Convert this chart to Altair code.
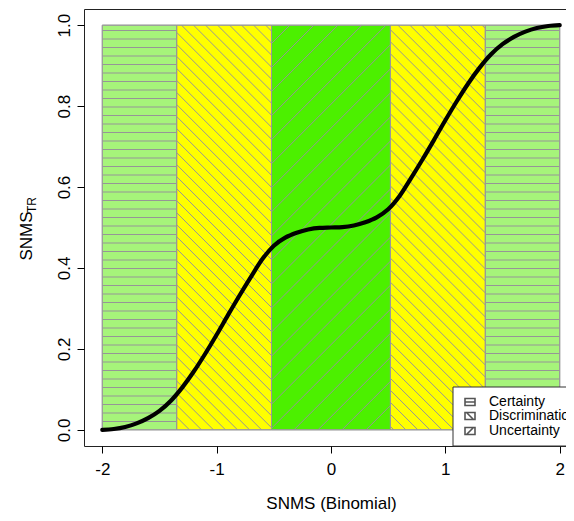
import altair as alt
import pandas as pd
import numpy as np

# ---------------- data ----------------
region_start = [-2.0, -1.35, -0.52, 0.52, 1.35]
region_end = [-1.35, -0.52, 0.52, 1.35, 2.0]
region_kind = ["Certainty", "Discrimination", "Uncertainty", "Discrimination", "Certainty"]
region_bottom = [0.0, 0.0, 0.0, 0.0, 0.0]
region_top = [1.0, 1.0, 1.0, 1.0, 1.0]

curve_x = [-2.0, -1.9, -1.8, -1.7, -1.6, -1.5, -1.4, -1.3, -1.2, -1.1, -1.0,
           -0.9, -0.8, -0.7, -0.6, -0.5, -0.4, -0.3, -0.2, -0.1, 0.0,
           0.1, 0.2, 0.3, 0.4, 0.5, 0.6, 0.7, 0.8, 0.9, 1.0,
           1.1, 1.2, 1.3, 1.4, 1.5, 1.6, 1.7, 1.8, 1.9, 2.0]
curve_y = [0.000, 0.002, 0.007, 0.016, 0.029, 0.047, 0.072, 0.105, 0.144, 0.188, 0.235,
           0.284, 0.332, 0.378, 0.422, 0.455, 0.475, 0.487, 0.495, 0.499, 0.500,
           0.501, 0.505, 0.513, 0.525, 0.545, 0.578, 0.622, 0.668, 0.716, 0.765,
           0.812, 0.856, 0.895, 0.928, 0.953, 0.971, 0.984, 0.993, 0.998, 1.000]

x_ticks = [-2, -1, 0, 1, 2]
y_ticks = [0.0, 0.2, 0.4, 0.6, 0.8, 1.0]
legend_labels = ["Certainty", "Discrimination", "Uncertainty"]

# ---------------- styling / layout ----------------
kind_color = {"Certainty": "#A6F47A", "Discrimination": "#FFFF00", "Uncertainty": "#4CF000"}
XDOM = [-2.16, 2.16]
YDOM = [-0.04, 1.04]
W, H = 494, 437
FONT = "Liberation Sans"
HATCH = "#969696"

kx = W / (XDOM[1] - XDOM[0])
ky = H / (YDOM[1] - YDOM[0])


def to_px(x, y):
    return (x - XDOM[0]) * kx, (YDOM[1] - y) * ky


def to_data(X, Y):
    return X / kx + XDOM[0], YDOM[1] - Y / ky


def hatch(x0, x1, y0, y1, direction, spacing, phase):
    """Hatch texture lines (pixel space direction), clipped to a data rectangle."""
    Xa, Yb = to_px(x0, y0)
    Xb, Yt = to_px(x1, y1)
    d = np.array(direction, dtype=float)
    d /= np.linalg.norm(d)
    n = np.array([-d[1], d[0]])
    corners = [np.array(p) for p in [(Xa, Yt), (Xb, Yt), (Xa, Yb), (Xb, Yb)]]
    proj = [float(n @ p) for p in corners]
    cmin, cmax = min(proj), max(proj)
    segs = []
    k = np.ceil((cmin - phase) / spacing)
    while phase + k * spacing <= cmax:
        c = phase + k * spacing
        k += 1
        p0 = c * n
        t_lo, t_hi = -1e9, 1e9
        ok = True
        for axis, lo, hi in ((0, Xa, Xb), (1, Yt, Yb)):
            if abs(d[axis]) < 1e-12:
                if not (lo + 0.5 < p0[axis] < hi - 0.5):
                    ok = False
            else:
                ta = (lo - p0[axis]) / d[axis]
                tb = (hi - p0[axis]) / d[axis]
                t_lo = max(t_lo, min(ta, tb))
                t_hi = min(t_hi, max(ta, tb))
        if not ok or t_hi - t_lo < 0.7:
            continue
        pa = p0 + t_lo * d
        pb = p0 + t_hi * d
        a = to_data(pa[0], pa[1])
        b = to_data(pb[0], pb[1])
        segs.append((float(a[0]), float(a[1]), float(b[0]), float(b[1])))
    return segs


hatch_style = {"Certainty": ((1, 0), 8.5, 21.5),
               "Discrimination": ((1, 1), 8.5, 2.0),
               "Uncertainty": ((1, -1), 17.0, 4.0)}
segs = []
for s, e, b, t, kd in zip(region_start, region_end, region_bottom, region_top, region_kind):
    dirn, sp, ph = hatch_style[kd]
    segs += hatch(s, e, b, t, dirn, sp, ph)
hatch_df = pd.DataFrame(segs, columns=["x", "y", "x2", "y2"])

regions = pd.DataFrame({"x0": region_start, "x1": region_end, "y0": region_bottom,
                        "y1": region_top, "kind": region_kind})
curve = pd.DataFrame({"x": curve_x, "y": curve_y})

xscale = alt.Scale(domain=XDOM, nice=False, zero=False)
yscale = alt.Scale(domain=YDOM, nice=False, zero=False)
X_AX = alt.Axis(values=x_ticks, labelExpr="toString(datum.value)",
                title="SNMS (Binomial)", labelPadding=8, titlePadding=18)
Y_AX = alt.Axis(values=y_ticks, format=".1f", title=None, labelAngle=270,
                labelAlign="center", labelBaseline="alphabetic", labelPadding=8)

rects = alt.Chart(regions).mark_rect(stroke="#999999", strokeWidth=1).encode(
    x=alt.X("x0:Q", scale=xscale, axis=X_AX), x2="x1:Q",
    y=alt.Y("y0:Q", scale=yscale, axis=Y_AX), y2="y1:Q",
    fill=alt.Fill("kind:N", scale=alt.Scale(domain=list(kind_color.keys()),
                                           range=list(kind_color.values())), legend=None),
)

hatches = alt.Chart(hatch_df).mark_rule(color=HATCH, strokeWidth=1).encode(
    x=alt.X("x:Q", scale=xscale, axis=X_AX), y=alt.Y("y:Q", scale=yscale, axis=Y_AX),
    x2="x2:Q", y2="y2:Q",
)

borders = alt.Chart(regions).mark_rect(stroke="#999999", strokeWidth=1, fillOpacity=0).encode(
    x=alt.X("x0:Q", scale=xscale, axis=X_AX), x2="x1:Q",
    y=alt.Y("y0:Q", scale=yscale, axis=Y_AX), y2="y1:Q",
)

line = alt.Chart(curve).mark_line(color="black", strokeWidth=4.2, interpolate="monotone",
                                  strokeCap="round").encode(
    x=alt.X("x:Q", scale=xscale, axis=X_AX), y=alt.Y("y:Q", scale=yscale, axis=Y_AX),
)

# y-axis title with subscript
one = pd.DataFrame({"a": [0]})
ytitle = alt.Chart(one).mark_text(text="SNMS", angle=270, fontSize=17, font=FONT,
                                  align="center", baseline="middle", color="black").encode(
    x=alt.value(-57), y=alt.value(227))
ysub = alt.Chart(one).mark_text(text="TR", angle=270, fontSize=12, font=FONT,
                                align="center", baseline="middle", color="black").encode(
    x=alt.value(-52), y=alt.value(196))

# legend (bottom-right, inside the box)
leg_box = alt.Chart(one).mark_rect(fill="white", stroke="#333333", strokeWidth=1).encode(
    x=alt.value(369), x2=alt.value(W), y=alt.value(378), y2=alt.value(H))
leg_rows = pd.DataFrame({
    "label": legend_labels,
    "ypix": [393, 407, 422],
    "shape": ["M-1,-0.7H1V0.7H-1Z M-1,0H1",
              "M-1,-0.7H1V0.7H-1Z M-0.7,-0.7L0.7,0.7",
              "M-1,-0.7H1V0.7H-1Z M-0.7,0.7L0.7,-0.7"],
})
leg_icons = alt.Chart(leg_rows).mark_point(filled=False, stroke="#555555", strokeWidth=1.6,
                                           size=100, opacity=1).encode(
    x=alt.value(386), y=alt.Y("ypix:Q", scale=None),
    shape=alt.Shape("shape:N", scale=None, legend=None),
)
leg_text = alt.Chart(leg_rows).mark_text(align="left", baseline="middle", fontSize=14,
                                         font=FONT, color="black").encode(
    x=alt.value(405), y=alt.Y("ypix:Q", scale=None), text="label:N")

chart = alt.layer(rects, hatches, borders, line, ytitle, ysub, leg_box, leg_icons, leg_text).properties(
    width=W, height=H,
    autosize=alt.AutoSizeParams(type="none"),
    padding={"left": 76, "top": 1, "right": -12, "bottom": 67},
    background="white",
).configure_view(stroke="#222222", strokeWidth=1).configure_axis(
    grid=False, domain=False, tickColor="black", tickSize=7, tickWidth=1,
    labelFont=FONT, labelFontSize=17, labelColor="black",
    titleFont=FONT, titleFontSize=17, titleFontWeight="normal", titleColor="black",
)

chart.save("out.html", embed_options={"renderer": "svg", "actions": False})
